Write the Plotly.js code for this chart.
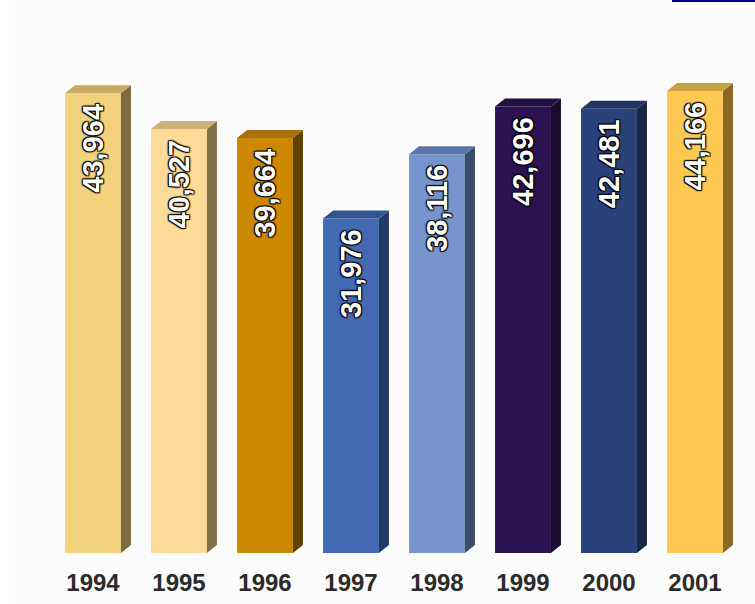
<!DOCTYPE html>
<html>
<head>
<meta charset="utf-8">
<script src="https://cdn.plot.ly/plotly-3.0.1.min.js"></script>
<style>
html,body{margin:0;padding:0;background:#ffffff;}
#wrap{position:relative;width:755px;height:604px;overflow:hidden;}
#chart{position:absolute;left:0;top:0;width:755px;height:604px;}
#lstrip{position:absolute;left:0;top:0;width:9px;height:604px;background:#ffffff;}
#bline{position:absolute;left:672px;top:0;width:83px;height:2px;background:#000080;}
</style>
</head>
<body>
<div id="wrap"><div id="chart"></div><div id="lstrip"></div><div id="bline"></div></div>
<script>
// Data
const years = ['1994','1995','1996','1997','1998','1999','2000','2001'];
const values = [43964, 40527, 39664, 31976, 38116, 42696, 42481, 44166];
const labels = ['43,964','40,527','39,664','31,976','38,116','42,696','42,481','44,166'];
const frontColors = ['#F2D27C','#FCDA98','#CC8800','#4369B2','#7795CC','#2C1250','#2A417A','#FEC953'];
const topColors   = ['#C8AA60','#CCB07A','#A87010','#33538F','#5A75A8','#221040','#22355F','#CCA040'];
const sideColors  = ['#7E6A3A','#83704C','#634200','#223A66','#3C4D6B','#1A0A30','#182644','#8A6828'];

// Layout geometry
const W = 755, H = 604;
const margin = {l: 50, r: 17, t: 30, b: 51};
const yMax = 50000;
const barW = 0.65;
const idx = years.map((_, i) => i);
const plotW = W - margin.l - margin.r;
const plotH = H - margin.t - margin.b;
const pxPerX = plotW / years.length;
const pxPerY = plotH / yMax;
const dx = 10 / pxPerX;   // depth offset, x data units
const dy = 8 / pxPerY;    // depth offset, y data units

const shapes = [];
idx.forEach(i => {
  const v = values[i];
  const L = i - barW / 2, R = i + barW / 2;
  shapes.push({
    type: 'path', xref: 'x', yref: 'y', layer: 'above',
    path: `M ${R},0 L ${R + dx},${dy} L ${R + dx},${v + dy} L ${R},${v} Z`,
    fillcolor: sideColors[i], line: {width: 0}
  });
  shapes.push({
    type: 'path', xref: 'x', yref: 'y', layer: 'above',
    path: `M ${L},${v} L ${L + dx},${v + dy} L ${R + dx},${v + dy} L ${R},${v} Z`,
    fillcolor: topColors[i], line: {width: 0}
  });
});

const annotations = idx.map(i => ({
  x: i, y: values[i], xref: 'x', yref: 'y',
  text: labels[i], showarrow: false, textangle: -90,
  xanchor: 'center', yanchor: 'top', yshift: -9,
  font: {
    family: 'Liberation Sans, Arial, sans-serif', size: 29, weight: 'bold', color: '#ffffff',
    shadow: '1px 1px 1px #000, -1px -1px 1px #000, 1px -1px 1px #000, -1px 1px 1px #000'
  }
}));

const trace = {
  type: 'bar',
  x: idx,
  y: values,
  width: barW,
  marker: {color: frontColors, line: {width: 0}},
  hoverinfo: 'none'
};

const layout = {
  width: W, height: H,
  margin: margin,
  paper_bgcolor: '#fcfcfc',
  plot_bgcolor: '#fcfcfc',
  showlegend: false,
  xaxis: {
    range: [-0.5, years.length - 0.5],
    tickmode: 'array', tickvals: idx, ticktext: years,
    showgrid: false, zeroline: false, showline: false, ticks: '',
    ticklabelstandoff: 13,
    tickfont: {family: 'Liberation Sans, Arial, sans-serif', size: 24, weight: 'bold', color: '#2b2b2b'},
    fixedrange: true
  },
  yaxis: {
    range: [0, yMax], visible: false, showgrid: false, zeroline: false, fixedrange: true
  },
  shapes: shapes,
  annotations: annotations
};

Plotly.newPlot('chart', [trace], layout, {displayModeBar: false, staticPlot: true});
</script>
</body>
</html>
